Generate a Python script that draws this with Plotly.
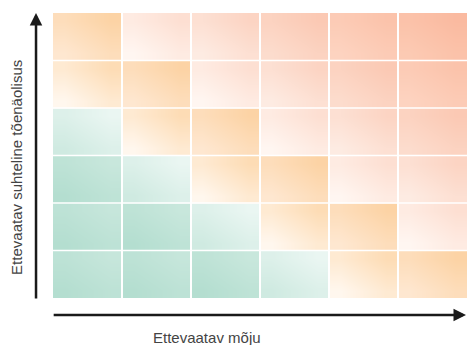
import plotly.graph_objects as go

# ---- data -------------------------------------------------------------
impact_levels = [1, 2, 3, 4, 5, 6]          # x: Ettevaatav mõju
likelihood_levels = [1, 2, 3, 4, 5, 6]      # y: Ettevaatav suhteline tõenäolisus
# risk score per cell; rows = likelihood (bottom -> top), cols = impact (left -> right)
risk_scores = [
    [2, 3, 4, 5, 6, 7],
    [3, 4, 5, 6, 7, 8],
    [4, 5, 6, 7, 8, 9],
    [5, 6, 7, 8, 9, 10],
    [6, 7, 8, 9, 10, 11],
    [7, 8, 9, 10, 11, 12],
]
x_title = "Ettevaatav mõju"
y_title = "Ettevaatav suhteline tõenäolisus"

# ---- style ------------------------------------------------------------
# (bottom-left colour, top-right colour) per risk score
PALETTE = {
    2: ("#b4ded0", "#c6e6db"),
    3: ("#b4ded0", "#c6e6db"),
    4: ("#b4ded0", "#c8e7dc"),
    5: ("#cfeae1", "#eaf6f2"),
    6: ("#fff7ee", "#fddcb5"),
    7: ("#fee7d0", "#fcd3a5"),
    8: ("#fff6f1", "#fddfd2"),
    9: ("#fdebe2", "#fcd4c3"),
    10: ("#fcdccd", "#fbc9b4"),
    11: ("#fdd3c0", "#fbc3ab"),
    12: ("#fccab3", "#fabaa0"),
}
# diagonal gradient weights (bottom-left -> top-right) and sub-cell edges
GRAD = [[0.0, 0.25, 0.5], [0.25, 0.5, 0.75], [0.5, 0.75, 1.0]]
SUB_EDGES = [-0.5, -1 / 6, 1 / 6, 0.5]
AXIS_COLOR = "#1a1a1a"
TEXT_COLOR = "#444444"
FONT = "Liberation Sans, Arial, sans-serif"

fig = go.Figure()
for ri, lk in enumerate(likelihood_levels):
    for ci, im in enumerate(impact_levels):
        c0, c1 = PALETTE[risk_scores[ri][ci]]
        fig.add_trace(go.Heatmap(
            x=[im + e for e in SUB_EDGES],
            y=[lk + e for e in SUB_EDGES],
            z=GRAD,
            zmin=0, zmax=1,
            zsmooth="best",
            colorscale=[[0, c0], [1, c1]],
            showscale=False,
            hoverinfo="skip",
        ))

# white separators between cells
for im in impact_levels[:-1]:
    fig.add_shape(type="line", xref="x", yref="y", x0=im + 0.5, x1=im + 0.5,
                  y0=likelihood_levels[0] - 0.5, y1=likelihood_levels[-1] + 0.5,
                  line=dict(color="white", width=2), layer="above")
for lk in likelihood_levels[:-1]:
    fig.add_shape(type="line", xref="x", yref="y", y0=lk + 0.5, y1=lk + 0.5,
                  x0=impact_levels[0] - 0.5, x1=impact_levels[-1] + 0.5,
                  line=dict(color="white", width=1.5), layer="above")

# axis arrows
fig.add_annotation(xref="paper", yref="paper", x=-0.041, y=1.0, text="",
                   showarrow=True, axref="pixel", ayref="pixel", ax=0, ay=287,
                   arrowhead=2, arrowsize=1, arrowwidth=2.5, arrowcolor=AXIS_COLOR,
                   standoff=0, startstandoff=0)
fig.add_annotation(xref="paper", yref="paper", x=0.998, y=-0.0596, text="",
                   showarrow=True, axref="pixel", ayref="pixel", ax=-414, ay=0,
                   arrowhead=2, arrowsize=1, arrowwidth=2.5, arrowcolor=AXIS_COLOR,
                   standoff=0, startstandoff=0)

# axis titles
fig.add_annotation(xref="paper", yref="paper", x=0.373, y=-0.137, text=x_title,
                   showarrow=False, font=dict(family=FONT, size=15, color=TEXT_COLOR),
                   xanchor="center", yanchor="middle")
fig.add_annotation(xref="paper", yref="paper", x=-0.087, y=0.46, text=y_title,
                   showarrow=False, textangle=-90,
                   font=dict(family=FONT, size=15, color=TEXT_COLOR),
                   xanchor="center", yanchor="middle")

fig.update_xaxes(range=[0.5, 6.5], visible=False, fixedrange=True)
fig.update_yaxes(range=[0.5, 6.5], visible=False, fixedrange=True)
fig.update_layout(
    width=467, height=345,
    margin=dict(l=53, r=0, t=13, b=47),
    paper_bgcolor="white", plot_bgcolor="white",
    showlegend=False,
)
fig.write_html(
    "out.html",
    config={"displayModeBar": False},
    post_script="document.body.style.margin='0';document.body.style.overflow='hidden';",
)
